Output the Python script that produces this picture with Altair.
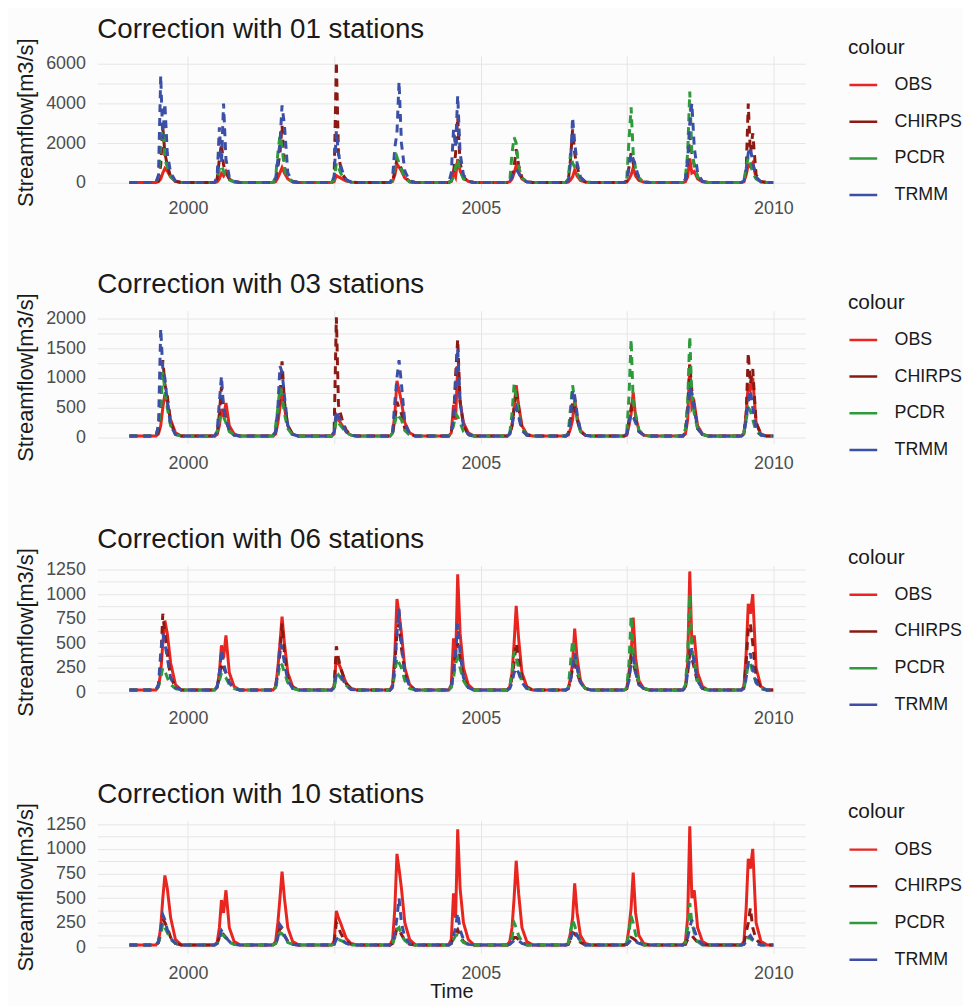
import altair as alt
import pandas as pd

# ---------------- data ----------------
YEARS = list(range(1999, 2010))
SEASON_DAYS = ["07-01", "07-15", "07-28", "08-10", "08-25", "09-15", "10-15"]
LOW_DAYS_BEFORE = ["01-01", "06-15"]
LOW_DAYS_AFTER = ["11-20"]
BASEFLOW = 25
END_DATE = "2009-12-31"

SERIES = ["OBS", "CHIRPS", "PCDR", "TRMM"]
COLORS = ["#e8251f", "#8b1a12", "#2f9a3c", "#3c4fa6"]

# observed flow (same in every panel)
OBS = [
    [60, 200, 500, 730, 600, 300, 80],
    [50, 200, 480, 350, 580, 200, 60],
    [60, 250, 500, 770, 500, 200, 60],
    [60, 370, 300, 250, 180, 90, 40],
    [80, 400, 950, 800, 600, 250, 80],
    [80, 550, 300, 1200, 600, 250, 80],
    [60, 200, 500, 880, 550, 200, 60],
    [40, 150, 300, 650, 350, 120, 40],
    [40, 200, 400, 760, 350, 120, 40],
    [60, 300, 1230, 500, 580, 200, 60],
    [60, 400, 900, 800, 1000, 250, 60],
]

# Correction with 01 stations
P1_CHIRPS = [
    [100, 900, 2800, 1500, 900, 300, 80],
    [200, 1200, 2000, 900, 500, 200, 60],
    [100, 800, 1500, 2900, 800, 300, 60],
    [200, 6100, 1500, 800, 400, 150, 50],
    [100, 600, 1200, 1000, 700, 300, 60],
    [100, 500, 1500, 3300, 1000, 300, 60],
    [80, 300, 800, 1700, 900, 250, 50],
    [100, 1200, 2700, 1500, 800, 250, 50],
    [100, 800, 1500, 1000, 600, 200, 50],
    [100, 1000, 2400, 1500, 900, 300, 60],
    [100, 600, 4000, 1500, 2500, 400, 60],
]
P1_PCDR = [
    [300, 1900, 3000, 1200, 800, 300, 80],
    [200, 700, 900, 600, 300, 150, 50],
    [300, 1500, 2400, 1800, 700, 200, 60],
    [150, 1000, 800, 500, 300, 120, 40],
    [100, 800, 1300, 1000, 700, 250, 60],
    [100, 300, 800, 1200, 600, 200, 50],
    [100, 1500, 2300, 2000, 800, 250, 50],
    [200, 1500, 1000, 800, 500, 200, 50],
    [200, 2200, 3800, 1500, 700, 250, 50],
    [300, 1500, 4600, 1500, 900, 300, 60],
    [100, 800, 1300, 1000, 500, 200, 50],
]
P1_TRMM = [
    [400, 5400, 2200, 4000, 1500, 500, 100],
    [300, 2800, 1000, 4000, 1200, 300, 80],
    [200, 1200, 2000, 3900, 2900, 500, 80],
    [300, 2600, 1500, 900, 500, 150, 50],
    [300, 1800, 2500, 5100, 2000, 600, 100],
    [500, 2700, 1800, 4400, 1500, 400, 80],
    [80, 300, 600, 700, 500, 200, 50],
    [100, 1000, 3300, 2000, 1000, 300, 60],
    [100, 900, 1500, 1200, 800, 250, 50],
    [200, 1200, 3000, 4000, 1800, 500, 80],
    [100, 700, 1500, 1800, 1000, 300, 50],
]

# Correction with 03 stations
P2_CHIRPS = [
    [100, 500, 1300, 900, 700, 250, 60],
    [80, 400, 850, 500, 300, 120, 40],
    [100, 400, 700, 1280, 600, 200, 50],
    [100, 2020, 550, 400, 250, 120, 40],
    [80, 300, 600, 500, 400, 150, 50],
    [100, 300, 1050, 1650, 600, 200, 50],
    [60, 200, 500, 800, 500, 150, 40],
    [60, 300, 600, 500, 300, 100, 40],
    [60, 300, 500, 400, 300, 100, 40],
    [80, 500, 1230, 800, 500, 150, 50],
    [80, 400, 1420, 900, 1150, 250, 50],
]
P2_PCDR = [
    [200, 450, 1100, 800, 500, 200, 50],
    [100, 300, 400, 350, 250, 100, 40],
    [200, 500, 850, 700, 400, 150, 40],
    [80, 300, 250, 200, 150, 80, 40],
    [80, 250, 400, 350, 300, 120, 40],
    [80, 200, 400, 350, 250, 100, 40],
    [80, 400, 900, 700, 400, 150, 40],
    [80, 500, 880, 600, 300, 100, 40],
    [100, 700, 1650, 600, 400, 120, 40],
    [150, 600, 1700, 700, 400, 150, 50],
    [80, 300, 500, 450, 300, 100, 40],
]
P2_TRMM = [
    [200, 1830, 1150, 1000, 600, 200, 50],
    [100, 600, 1030, 500, 300, 120, 40],
    [100, 500, 1200, 1100, 700, 200, 50],
    [100, 450, 350, 300, 200, 100, 40],
    [100, 600, 1000, 1300, 900, 250, 60],
    [100, 300, 900, 1500, 600, 200, 50],
    [60, 200, 400, 500, 350, 120, 40],
    [60, 300, 800, 700, 400, 120, 40],
    [60, 250, 400, 350, 250, 100, 40],
    [100, 400, 850, 750, 500, 150, 50],
    [60, 300, 600, 800, 500, 150, 40],
]

# Correction with 06 stations
P3_CHIRPS = [
    [80, 300, 800, 600, 400, 150, 60],
    [60, 150, 300, 250, 200, 100, 40],
    [60, 200, 400, 700, 400, 150, 50],
    [60, 470, 350, 250, 180, 90, 40],
    [60, 300, 600, 700, 450, 200, 60],
    [60, 200, 400, 500, 350, 150, 50],
    [50, 150, 300, 500, 350, 150, 50],
    [40, 120, 250, 300, 200, 100, 40],
    [40, 150, 350, 300, 200, 80, 40],
    [50, 200, 400, 350, 250, 100, 40],
    [50, 300, 650, 700, 500, 150, 50],
]
P3_PCDR = [
    [60, 150, 250, 220, 150, 80, 40],
    [60, 120, 200, 180, 150, 80, 40],
    [50, 150, 300, 280, 200, 100, 40],
    [50, 150, 180, 150, 120, 70, 30],
    [50, 200, 350, 300, 250, 120, 40],
    [50, 150, 300, 350, 250, 120, 40],
    [50, 200, 420, 350, 250, 100, 40],
    [50, 300, 530, 400, 250, 100, 40],
    [50, 300, 780, 400, 250, 100, 40],
    [80, 400, 1000, 450, 300, 120, 40],
    [40, 150, 300, 300, 200, 100, 40],
]
P3_TRMM = [
    [80, 400, 600, 500, 350, 150, 50],
    [60, 200, 430, 300, 200, 100, 40],
    [60, 200, 500, 450, 300, 120, 40],
    [50, 180, 200, 180, 130, 70, 30],
    [60, 300, 600, 850, 500, 200, 60],
    [60, 200, 400, 700, 400, 150, 50],
    [40, 100, 200, 250, 200, 100, 40],
    [40, 120, 250, 400, 250, 100, 40],
    [40, 120, 300, 350, 200, 80, 40],
    [50, 200, 350, 450, 300, 120, 40],
    [40, 150, 300, 400, 250, 100, 40],
]

# Correction with 10 stations
P4_CHIRPS = [
    [50, 150, 300, 250, 200, 100, 40],
    [40, 100, 150, 130, 100, 60, 30],
    [40, 100, 200, 180, 120, 60, 30],
    [50, 250, 200, 150, 100, 60, 30],
    [40, 100, 200, 180, 130, 70, 30],
    [40, 100, 150, 180, 120, 60, 30],
    [30, 60, 100, 100, 80, 50, 25],
    [30, 80, 150, 140, 100, 50, 25],
    [30, 60, 100, 90, 70, 40, 25],
    [30, 80, 100, 120, 90, 50, 25],
    [40, 150, 250, 400, 200, 80, 30],
]
P4_PCDR = [
    [50, 120, 250, 200, 150, 80, 40],
    [40, 80, 130, 120, 90, 50, 30],
    [40, 80, 150, 140, 100, 50, 30],
    [30, 70, 80, 70, 60, 40, 25],
    [40, 100, 180, 200, 130, 70, 30],
    [40, 80, 120, 130, 90, 50, 30],
    [30, 100, 250, 200, 120, 60, 25],
    [40, 150, 280, 220, 130, 60, 25],
    [40, 150, 320, 250, 130, 60, 25],
    [50, 200, 450, 250, 150, 60, 25],
    [30, 60, 100, 90, 70, 40, 25],
]
P4_TRMM = [
    [50, 200, 330, 280, 180, 90, 40],
    [40, 100, 170, 140, 100, 60, 30],
    [40, 100, 230, 200, 120, 60, 30],
    [30, 80, 100, 90, 70, 40, 25],
    [40, 150, 300, 500, 250, 100, 40],
    [40, 120, 200, 350, 180, 80, 30],
    [30, 50, 70, 80, 70, 40, 25],
    [30, 80, 150, 180, 120, 60, 25],
    [30, 50, 80, 70, 60, 40, 25],
    [40, 100, 200, 280, 180, 80, 30],
    [30, 60, 100, 120, 80, 40, 25],
]

PANELS = [
    ("Correction with 01 stations", {"OBS": OBS, "CHIRPS": P1_CHIRPS, "PCDR": P1_PCDR, "TRMM": P1_TRMM},
     [-290, 6400], list(range(0, 6001, 1000)), 2000),
    ("Correction with 03 stations", {"OBS": OBS, "CHIRPS": P2_CHIRPS, "PCDR": P2_PCDR, "TRMM": P2_TRMM},
     [-100, 2130], list(range(0, 2001, 250)), 500),
    ("Correction with 06 stations", {"OBS": OBS, "CHIRPS": P3_CHIRPS, "PCDR": P3_PCDR, "TRMM": P3_TRMM},
     [-60, 1290], list(range(0, 1251, 125)), 250),
    ("Correction with 10 stations", {"OBS": OBS, "CHIRPS": P4_CHIRPS, "PCDR": P4_PCDR, "TRMM": P4_TRMM},
     [-60, 1290], list(range(0, 1251, 125)), 250),
]


def build_table(series_dict):
    rows = []
    for s in SERIES:
        seasons = series_dict[s]
        for y, vals in zip(YEARS, seasons):
            for d in LOW_DAYS_BEFORE:
                rows.append({"date": f"{y}-{d}", "value": BASEFLOW, "series": s})
            for d, v in zip(SEASON_DAYS, vals):
                rows.append({"date": f"{y}-{d}", "value": v, "series": s})
            for d in LOW_DAYS_AFTER:
                rows.append({"date": f"{y}-{d}", "value": BASEFLOW, "series": s})
        rows.append({"date": END_DATE, "value": BASEFLOW, "series": s})
    return pd.DataFrame(rows)


# ---------------- styling ----------------
FONT = "Liberation Sans"
W, H = 714, 134

x_scale = alt.Scale(
    type="utc",
    domain=[alt.DateTime(year=1998, month=6, date=14, utc=True),
            alt.DateTime(year=2010, month=7, date=19, utc=True)],
)
x_values = [
    alt.DateTime(year=2000, month=1, date=1, utc=True),
    alt.DateTime(year=2002, month=7, date=2, utc=True),
    alt.DateTime(year=2005, month=1, date=1, utc=True),
    alt.DateTime(year=2007, month=7, date=2, utc=True),
    alt.DateTime(year=2010, month=1, date=1, utc=True),
]

legend_def = alt.Legend(
    title="colour",
    orient="none",
    legendX=757,
    legendY=-19,
    symbolType="stroke",
    symbolSize=784,
    symbolStrokeWidth=2.5,
    symbolDash=[1, 0],
    labelFontSize=18,
    labelFont=FONT,
    labelColor="#1a1a1a",
    titleFontSize=21,
    titleFont=FONT,
    titleFontWeight="normal",
    titleColor="#1a1a1a",
    titlePadding=12,
    labelOffset=16,
    rowPadding=12,
)

color_scale = alt.Scale(domain=SERIES, range=COLORS)


def make_panel(title, series_dict, ydomain, yvalues, label_step, last):
    df = build_table(series_dict)
    xaxis = alt.Axis(
        values=x_values,
        labelExpr="utcmonth(datum.value) === 0 ? utcFormat(datum.value, '%Y') : ''",
        title="Time" if last else None,
        titleFontSize=20,
        titleFont=FONT,
        titleFontWeight="normal",
        titleColor="#1a1a1a",
        titlePadding=0,
        labelFontSize=18,
        labelFont=FONT,
        labelColor="#4d4d4d",
        labelPadding=11,
        ticks=False,
        domain=False,
        grid=True,
        gridColor="#e6e6e6",
        gridWidth=1,
    )
    yaxis = alt.Axis(
        values=yvalues,
        format="d",
        labelExpr=f"datum.value % {label_step} === 0 ? datum.label : ''",
        title="Streamflow[m3/s]",
        titleFontSize=22,
        titleFont=FONT,
        titleFontWeight="normal",
        titleColor="#1a1a1a",
        titlePadding=8,
        labelFontSize=18,
        labelFont=FONT,
        labelColor="#4d4d4d",
        labelPadding=12,
        ticks=False,
        domain=False,
        grid=True,
        gridColor="#e6e6e6",
        gridWidth=1,
    )
    layers = []
    for s in SERIES:
        mark_kwargs = dict(strokeWidth=3, clip=True)
        if s != "OBS":
            mark_kwargs["strokeDash"] = [8, 6]
        layers.append(
            alt.Chart(df)
            .transform_filter(alt.datum.series == s)
            .mark_line(**mark_kwargs)
            .encode(
                x=alt.X("date:T", scale=x_scale, axis=xaxis),
                y=alt.Y("value:Q", scale=alt.Scale(domain=ydomain, nice=False, zero=False), axis=yaxis),
                color=alt.Color("series:N", scale=color_scale, legend=legend_def),
            )
        )
    return alt.layer(*layers).properties(
        width=W,
        height=H,
        title=alt.TitleParams(
            text=title,
            anchor="start",
            frame="group",
            fontSize=28,
            font=FONT,
            fontWeight="normal",
            color="#1a1a1a",
            offset=-7,
        ),
    )


panels = [make_panel(t, d, yd, yv, st, i == len(PANELS) - 1)
          for i, (t, d, yd, yv, st) in enumerate(PANELS)]

chart = (
    alt.vconcat(*panels, spacing=54)
    .resolve_scale(color="independent", y="independent")
    .resolve_legend(color="independent")
    .configure(background="#fcfcfc")
    .configure_view(stroke=None)
    .properties(padding={"left": 6, "top": 4, "right": 0, "bottom": 0})
)

chart.save("out.html", embed_options={"renderer": "svg", "actions": False})
